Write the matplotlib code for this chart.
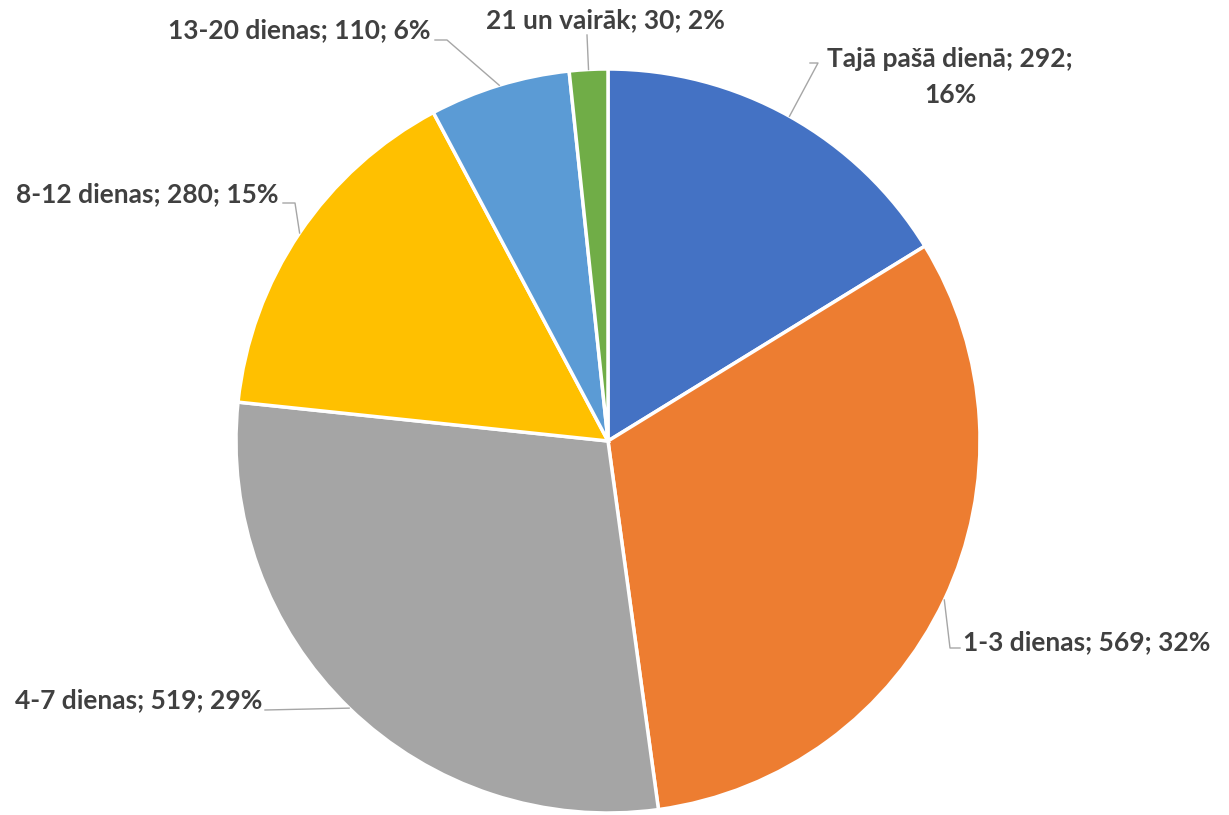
import numpy as np
import matplotlib.pyplot as plt

# data
categories = ["Tajā pašā dienā", "1-3 dienas", "4-7 dienas", "8-12 dienas",
              "13-20 dienas", "21 un vairāk"]
counts = [292, 569, 519, 280, 110, 30]
percents = ["16%", "32%", "29%", "15%", "6%", "2%"]
colors = ["#4472C4", "#ED7D31", "#A5A5A5", "#FFC000", "#5B9BD5", "#70AD47"]

W, H = 1229, 815
fig = plt.figure(figsize=(W / 100, H / 100), dpi=100)
ax = fig.add_axes([0, 0, 1, 1])

cx, cy, r = 608, H - 441, 372
wedges, _ = ax.pie(counts, colors=colors, startangle=90, counterclock=False,
                   center=(cx, cy), radius=r, frame=True,
                   wedgeprops=dict(edgecolor="white", linewidth=2.5))
ax.set_xlim(0, W)
ax.set_ylim(0, H)
ax.set_aspect("equal")
ax.axis("off")

# label layout in pixel coords (top-left origin): text anchor, knee, ha
layout = [
    ((950, 77), (818, 63), "center"),
    ((963, 642), (950, 648), "left"),
    ((262, 700), (265, 710), "right"),
    ((278, 194), (295, 203), "right"),
    ((430, 30), (447, 40), "right"),
    ((725, 20), (587, 35), "right"),
]
label_text = [f"{c}; {n}; {p}" for c, n, p in zip(categories, counts, percents)]
label_text[0] = f"{categories[0]}; {counts[0]};\n{percents[0]}"

font = dict(family=["Lato", "DejaVu Sans"], fontsize=19, fontweight="bold",
            color="#404040")

for i, (w, txt, (pos, knee, ha)) in enumerate(zip(wedges, label_text, layout)):
    mid = np.deg2rad((w.theta1 + w.theta2) / 2)
    ex, ey = cx + r * np.cos(mid), cy + r * np.sin(mid)
    kx, ky = knee[0], H - knee[1]
    xs, ys = [ex, kx], [ey, ky]
    if i == 1:
        xs.append(kx + 10); ys.append(ky)
    elif i in (0,):
        xs.append(kx - 8); ys.append(ky)
    elif i in (3, 4):
        xs.append(kx - 12); ys.append(ky)
    ax.plot(xs, ys, color="#A6A6A6", lw=1, zorder=1)
    ax.text(pos[0], H - pos[1], txt, ha=ha, va="center", linespacing=1.6,
            **font)

fig.savefig("out.png", dpi=100)
